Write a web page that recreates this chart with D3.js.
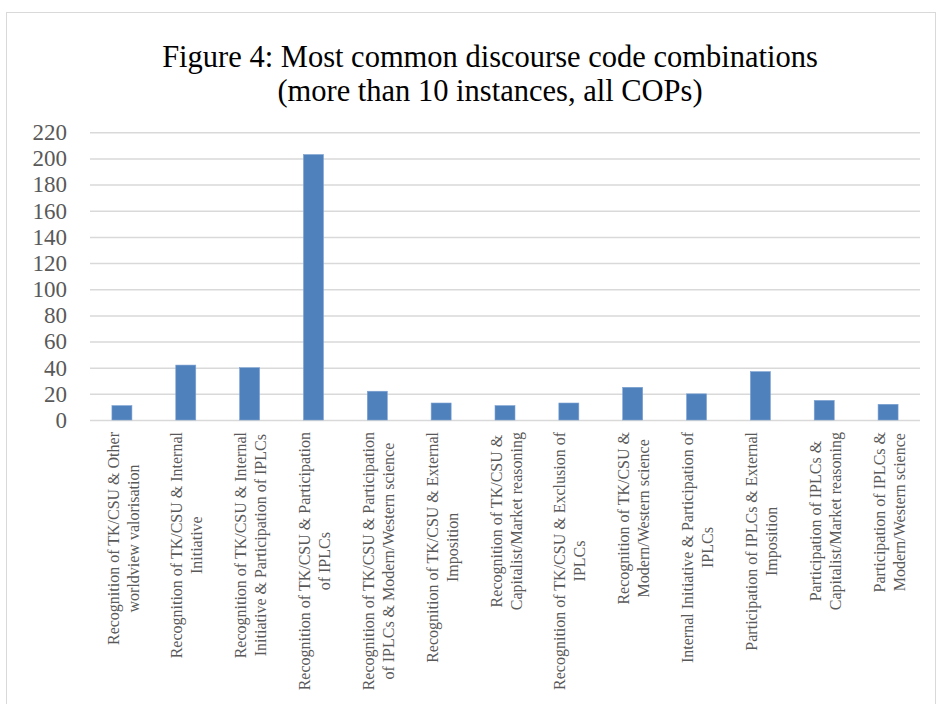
<!DOCTYPE html>
<html>
<head>
<meta charset="utf-8">
<script src="https://cdn.jsdelivr.net/npm/d3@7"></script>
<style>
  html, body { margin: 0; padding: 0; background: #fff; }
  svg { display: block; }
</style>
</head>
<body>
<svg id="chart" width="938" height="704"></svg>
<script>
const titleLines = ["Figure 4: Most common discourse code combinations", "(more than 10 instances, all COPs)"];
const categories = [
  ["Recognition of TK/CSU & Other", "worldview valorisation"],
  ["Recognition of TK/CSU & Internal", "Initiative"],
  ["Recognition of TK/CSU & Internal", "Initiative & Participation of IPLCs"],
  ["Recognition of TK/CSU & Participation", "of IPLCs"],
  ["Recognition of TK/CSU & Participation", "of IPLCs & Modern/Western science"],
  ["Recognition of TK/CSU & External", "Imposition"],
  ["Recognition of TK/CSU &", "Capitalist/Market reasoning"],
  ["Recognition of TK/CSU & Exclusion of", "IPLCs"],
  ["Recognition of TK/CSU &", "Modern/Western science"],
  ["Internal Initiative & Participation of", "IPLCs"],
  ["Participation of IPLCs & External", "Imposition"],
  ["Participation of IPLCs &", "Capitalist/Market reasoning"],
  ["Participation of IPLCs &", "Modern/Western science"]
];
const values = [11, 42, 40, 203, 22, 13, 11, 13, 25, 20, 37, 15, 12];
const yTicks = [0, 20, 40, 60, 80, 100, 120, 140, 160, 180, 200, 220];

(function draw() {
const svg = d3.select("#chart");
const font = "'Liberation Serif', 'Times New Roman', serif";
const plotLeft = 90, plotRight = 920, plotTop = 132.3, plotBottom = 420;

// chart frame
svg.append("rect")
  .attr("x", 6.5).attr("y", 12.5)
  .attr("width", 929).attr("height", 720)
  .attr("fill", "#fff").attr("stroke", "#D9D9D9").attr("stroke-width", 1);

// title
svg.append("g").selectAll("text").data(titleLines).join("text")
  .attr("x", 490).attr("y", (d, i) => 66.5 + i * 34.5)
  .attr("text-anchor", "middle")
  .attr("font-family", font).attr("font-size", 30.5)
  .attr("fill", "#000")
  .text(d => d);

const ids = categories.map((d, i) => i);
const x = d3.scaleBand().domain(ids).range([plotLeft, plotRight]).padding(0);
const y = d3.scaleLinear().domain([0, 220]).range([plotBottom, plotTop]);

// y axis + gridlines
const yAxis = svg.append("g")
  .attr("transform", `translate(${plotLeft},0)`)
  .call(d3.axisLeft(y).tickValues(yTicks).tickSize(-(plotRight - plotLeft)).tickPadding(23));
yAxis.select(".domain").remove();
yAxis.selectAll(".tick line").attr("stroke", "#D9D9D9").attr("stroke-width", 1.5);
yAxis.selectAll(".tick text")
  .attr("font-family", font).attr("font-size", 23).attr("fill", "#595959");

// bars
const barW = 20;
svg.append("g").selectAll("rect").data(values).join("rect")
  .attr("x", (d, i) => x(i) + (x.bandwidth() - barW) / 2)
  .attr("y", d => y(d))
  .attr("width", barW)
  .attr("height", d => y(0) - y(d))
  .attr("fill", "#4F81BD")
  .attr("stroke", "#7FA3D1").attr("stroke-width", 0.6);

// x labels
const labelSize = 16, lineGap = 20, labelTop = 432;
categories.forEach((lines, i) => {
  const cx = x(i) + x.bandwidth() / 2 + 1;
  const g = svg.append("g").attr("transform", `translate(${cx},${labelTop}) rotate(-90)`);
  const texts = g.selectAll("text").data(lines).join("text")
    .attr("y", (d, j) => (j - (lines.length - 1) / 2) * lineGap)
    .attr("dy", "0.35em")
    .attr("text-anchor", "middle")
    .attr("font-family", font).attr("font-size", labelSize).attr("fill", "#595959")
    .text(d => d);
  let maxL = 0;
  texts.each(function () { maxL = Math.max(maxL, this.getComputedTextLength()); });
  texts.attr("x", -maxL / 2);
});
})();
</script>
</body>
</html>
